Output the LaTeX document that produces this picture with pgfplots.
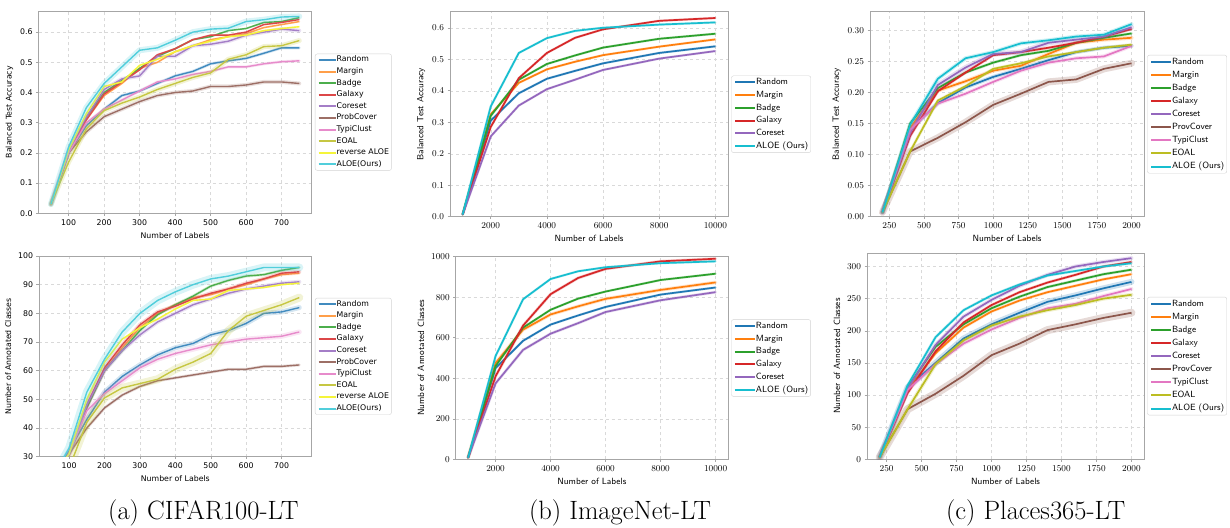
\documentclass[border=0pt]{standalone}
\usepackage{fontspec}
\usepackage{pgfplots}
\usepackage{pgfplotstable}
\pgfplotsset{compat=1.18}
\newfontfamily\dejavu{DejaVu Sans}

\definecolor{tBlue}{HTML}{1F77B4}
\definecolor{tOrange}{HTML}{FF7F0E}
\definecolor{tGreen}{HTML}{2CA02C}
\definecolor{tRed}{HTML}{D62728}
\definecolor{tPurple}{HTML}{9467BD}
\definecolor{tBrown}{HTML}{8C564B}
\definecolor{tPink}{HTML}{E377C2}
\definecolor{tOlive}{HTML}{BCBD22}
\definecolor{tCyan}{HTML}{17BECF}
\definecolor{tYellow}{HTML}{F5F53A}

% CIFAR100-LT, balanced accuracy
\pgfplotstableread{
n Random Margin Badge Galaxy Coreset ProbCover TypiClust EOAL revALOE ALOE
50 0.030 0.030 0.030 0.030 0.030 0.030 0.030 0.030 0.030 0.030
100 0.200 0.200 0.200 0.200 0.210 0.200 0.200 0.170 0.210 0.220
150 0.290 0.310 0.320 0.310 0.320 0.270 0.300 0.280 0.330 0.350
200 0.345 0.390 0.400 0.395 0.410 0.320 0.345 0.340 0.420 0.430
250 0.390 0.430 0.440 0.435 0.445 0.345 0.375 0.365 0.435 0.485
300 0.405 0.480 0.480 0.475 0.455 0.370 0.405 0.385 0.490 0.540
350 0.430 0.500 0.520 0.525 0.520 0.390 0.435 0.410 0.510 0.548
400 0.455 0.535 0.545 0.545 0.520 0.400 0.445 0.430 0.535 0.573
450 0.470 0.555 0.575 0.575 0.555 0.405 0.460 0.450 0.555 0.600
500 0.495 0.575 0.585 0.590 0.560 0.420 0.470 0.465 0.570 0.610
550 0.505 0.585 0.605 0.590 0.570 0.420 0.485 0.510 0.585 0.613
600 0.513 0.595 0.612 0.600 0.590 0.425 0.485 0.525 0.590 0.635
650 0.530 0.615 0.632 0.625 0.600 0.435 0.495 0.552 0.605 0.641
700 0.548 0.625 0.635 0.632 0.610 0.435 0.502 0.555 0.612 0.650
750 0.548 0.635 0.648 0.642 0.605 0.430 0.505 0.572 0.618 0.652
}\accA

% CIFAR100-LT, annotated classes
\pgfplotstableread{
n Random Margin Badge Galaxy Coreset ProbCover TypiClust EOAL revALOE ALOE
50 22 22 22 22 22 22 22 18 22 22
100 32 31 31 31 31 31 31 26 31 33
150 43 48 47 48 48 40 46 42 50 52.5
200 52.5 60 60 61 60 47 52 50.5 63 64
250 58 68 67 69 67 51.5 56.5 54 71 73.5
300 62 75 74 76 72.5 54.5 61 55.5 75 80
350 65.5 80 79.5 80.5 77 56.5 64 57 78 84.5
400 68 83 83 82.5 80 57.5 66 60.5 81.5 87.5
450 69.5 85.5 86 85 83 58.5 67.5 63 84.5 90
500 72.5 86.5 89.5 87 85 59.5 69 66 85 92
550 74 88.5 91.5 88.5 87 60.5 70 74 88 93
600 76.5 90 93 90.5 88.5 60.5 71 79 88.5 94.5
650 80 92 93.5 92 89.5 61.5 71.5 81 89 96
700 80.5 93.5 95 94 90.5 61.5 72 83 90 96
750 82 94 96 94.5 91 62 73.5 85.5 90.5 96
}\clsA

% ImageNet-LT
\pgfplotstableread{
n Random Margin Badge Galaxy Coreset ALOE
1000 0.007 0.007 0.007 0.007 0.007 0.007
2000 0.305 0.325 0.320 0.285 0.255 0.350
3000 0.392 0.425 0.435 0.440 0.353 0.520
4000 0.438 0.468 0.485 0.520 0.405 0.567
5000 0.463 0.492 0.512 0.568 0.435 0.590
6000 0.487 0.513 0.537 0.595 0.466 0.600
8000 0.520 0.540 0.565 0.622 0.502 0.610
10000 0.541 0.563 0.581 0.631 0.526 0.617
}\accB

\pgfplotstableread{
n Random Margin Badge Galaxy Coreset ALOE
1000 8 8 8 8 8 8
2000 450 475 460 410 375 510
3000 585 640 650 660 540 790
4000 665 715 738 815 620 890
5000 710 755 793 895 672 928
6000 752 792 828 940 727 948
8000 813 836 885 977 785 968
10000 848 873 916 990 825 977
}\clsB

% Places365-LT
\pgfplotstableread{
n Random Margin Badge Galaxy Coreset ProvCover TypiClust EOAL ALOE
200 0.007 0.007 0.007 0.007 0.007 0.007 0.007 0.007 0.007
400 0.140 0.143 0.150 0.130 0.135 0.105 0.140 0.105 0.148
600 0.183 0.203 0.207 0.202 0.212 0.127 0.182 0.187 0.222
800 0.208 0.218 0.232 0.232 0.240 0.152 0.198 0.210 0.255
1000 0.225 0.235 0.248 0.260 0.262 0.180 0.217 0.238 0.265
1200 0.238 0.243 0.260 0.265 0.265 0.198 0.235 0.247 0.279
1400 0.252 0.262 0.267 0.272 0.280 0.217 0.248 0.258 0.284
1600 0.265 0.280 0.280 0.280 0.285 0.221 0.255 0.265 0.290
1800 0.272 0.285 0.288 0.290 0.290 0.238 0.258 0.272 0.293
2000 0.275 0.288 0.295 0.302 0.305 0.247 0.275 0.277 0.310
}\accC

\pgfplotstableread{
n Random Margin Badge Galaxy Coreset ProvCover TypiClust EOAL ALOE
200 3 3 3 3 3 3 3 3 3
400 112 108 112 103 110 78 108 78 115
600 150 165 175 168 178 102 148 148 190
800 188 205 210 213 222 130 180 185 232
1000 210 230 235 240 248 162 202 208 255
1200 228 247 253 260 270 180 220 222 272
1400 245 260 268 275 287 201 235 232 286
1600 255 270 278 287 300 210 242 240 293
1800 266 280 288 300 307 220 254 250 300
2000 276 288 295 307 313 228 265 256 305
}\clsC

% one series: translucent band, then the line
\newcommand\ser[5]{%
  \addplot[forget plot, draw=#3, opacity=0.22, line width=#4, line join=round, line cap=round] table[x=n,y=#2]{#1};
  \addplot[draw=#3, line width=#5, line join=round] table[x=n,y=#2]{#1};
}

\pgfplotsset{
  panel/.style={
    scale only axis, anchor=south west, clip=true,
    grid=major, grid style={dashed, gray!30, line width=0.4pt},
    axis line style={gray!70, line width=0.6pt},
    tick style={gray!70, line width=0.5pt}, tick align=outside, major tick length=2.5pt,
    xtick pos=bottom, ytick pos=left,
    scaled x ticks=false, scaled y ticks=false,
    /pgf/number format/1000 sep={},
    legend cell align=left,
    legend style={at={(1.012,0.5)}, anchor=west, draw=gray!35, rounded corners=2pt,
      inner xsep=2.5pt, inner ysep=2pt, fill=white},
  },
  pa/.style={panel,
    xmin=15, xmax=785, xtick={100,200,300,400,500,600,700},
    /pgf/number format/assume math mode=true,
    tick label style={font=\dejavu\fontsize{7.8}{9}\selectfont},
    label style={font=\dejavu\fontsize{7.8}{9}\selectfont},
    legend image code/.code={\draw[##1, line width=2pt, opacity=1] (0pt,0pt) -- (17pt,0pt);},
    legend style={font=\dejavu\fontsize{7.8}{9}\selectfont, row sep=3.6pt,
      nodes={inner sep=0pt, text height=6pt, text depth=2pt}},
    xlabel={Number of Labels},
    legend entries={Random, Margin, Badge, Galaxy, Coreset, ProbCover, TypiClust, EOAL, reverse ALOE, ALOE(Ours)},
  },
  pbc/.style={panel,
    tick label style={font=\fontsize{9}{10}\selectfont},
    label style={font=\sffamily\fontsize{9}{10}\selectfont},
    legend image code/.code={\draw[##1, line width=2pt, opacity=1] (0pt,0pt) -- (20pt,0pt);},
    legend style={font=\sffamily\fontsize{9}{10}\selectfont,
      nodes={inner sep=0pt, text height=7pt, text depth=2.3pt}},
    xlabel={Number of Labels},
  },
  pb/.style={pbc, xmin=550, xmax=10450, xtick={2000,4000,6000,8000,10000},
    legend style={row sep=3.4pt},
    legend entries={Random, Margin, Badge, Galaxy, Coreset, ALOE (Ours)}},
  pc/.style={pbc, xmin=110, xmax=2090, xtick={250,500,750,1000,1250,1500,1750,2000},
    legend style={row sep=3.8pt},
    legend entries={Random, Margin, Badge, Galaxy, Coreset, ProvCover, TypiClust, EOAL, ALOE (Ours)}},
}

\begin{document}
\begin{tikzpicture}[x=1pt,y=1pt]
\path[use as bounding box] (0,0) rectangle (1230,527);

% (a) top
\begin{axis}[pa, at={(38.5pt,313.7pt)}, width=273.2pt, height=202.3pt,
  ymin=0, ymax=0.67, ytick={0,0.1,0.2,0.3,0.4,0.5,0.6},
  yticklabel style={/pgf/number format/.cd, fixed, fixed zerofill, precision=1},
  ylabel={Balanced Test Accuracy}]
\ser{\accA}{Random}{tBlue!85!white}{3pt}{1.4pt}
\ser{\accA}{Margin}{tOrange!75!white}{2pt}{1.4pt}
\ser{\accA}{Badge}{tGreen!85!white}{2pt}{1.4pt}
\ser{\accA}{Galaxy}{tRed!85!white}{2pt}{1.4pt}
\ser{\accA}{Coreset}{tPurple!85!white}{4pt}{1.4pt}
\ser{\accA}{ProbCover}{tBrown!85!white}{4pt}{1.4pt}
\ser{\accA}{TypiClust}{tPink!85!white}{3pt}{1.4pt}
\ser{\accA}{EOAL}{tOlive!85!white}{5pt}{1.4pt}
\ser{\accA}{revALOE}{tYellow}{2pt}{1.4pt}
\ser{\accA}{ALOE}{tCyan!75!white}{6pt}{1.4pt}
\end{axis}

% (a) bottom
\begin{axis}[pa, at={(39pt,70.3pt)}, width=272.7pt, height=200.7pt,
  ymin=30, ymax=100, ytick={30,40,50,60,70,80,90,100},
  ylabel={Number of Annotated Classes}]
\ser{\clsA}{Random}{tBlue!85!white}{5pt}{1.4pt}
\ser{\clsA}{Margin}{tOrange!75!white}{3pt}{1.4pt}
\ser{\clsA}{Badge}{tGreen!85!white}{3pt}{1.4pt}
\ser{\clsA}{Galaxy}{tRed!85!white}{4pt}{1.4pt}
\ser{\clsA}{Coreset}{tPurple!85!white}{4pt}{1.4pt}
\ser{\clsA}{ProbCover}{tBrown!85!white}{3pt}{1.4pt}
\ser{\clsA}{TypiClust}{tPink!85!white}{5pt}{1.4pt}
\ser{\clsA}{EOAL}{tOlive!85!white}{8pt}{1.4pt}
\ser{\clsA}{revALOE}{tYellow}{2pt}{1.4pt}
\ser{\clsA}{ALOE}{tCyan!75!white}{8pt}{1.4pt}
\end{axis}

% (b) top
\begin{axis}[pb, at={(450pt,310.3pt)}, width=278pt, height=205pt,
  ymin=0, ymax=0.651, ytick={0,0.1,0.2,0.3,0.4,0.5,0.6},
  yticklabel style={/pgf/number format/.cd, fixed, fixed zerofill, precision=1},
  ylabel={Balanced Test Accuracy}]
\ser{\accB}{Random}{tBlue}{2.5pt}{1.7pt}
\ser{\accB}{Margin}{tOrange}{2.5pt}{1.7pt}
\ser{\accB}{Badge}{tGreen}{2.5pt}{1.7pt}
\ser{\accB}{Galaxy}{tRed}{2.5pt}{1.7pt}
\ser{\accB}{Coreset}{tPurple}{2.5pt}{1.7pt}
\ser{\accB}{ALOE}{tCyan}{2.5pt}{1.7pt}
\end{axis}

% (b) bottom
\begin{axis}[pb, at={(455.7pt,67.7pt)}, width=272.3pt, height=202.6pt,
  ymin=0, ymax=1000, ytick={0,200,400,600,800,1000},
  ylabel={Number of Annotated Classes}]
\ser{\clsB}{Random}{tBlue}{2.5pt}{1.7pt}
\ser{\clsB}{Margin}{tOrange}{3.5pt}{1.7pt}
\ser{\clsB}{Badge}{tGreen}{2.5pt}{1.7pt}
\ser{\clsB}{Galaxy}{tRed}{3pt}{1.7pt}
\ser{\clsB}{Coreset}{tPurple}{3pt}{1.7pt}
\ser{\clsB}{ALOE}{tCyan}{2.5pt}{1.7pt}
\end{axis}

% (c) top
\begin{axis}[pc, at={(870pt,310.3pt)}, width=274pt, height=205pt,
  ymin=0, ymax=0.33, ytick={0,0.05,0.10,0.15,0.20,0.25,0.30},
  yticklabel style={/pgf/number format/.cd, fixed, fixed zerofill, precision=2},
  ylabel={Balanced Test Accuracy}]
\ser{\accC}{Random}{tBlue}{4pt}{1.7pt}
\ser{\accC}{Margin}{tOrange}{4pt}{1.7pt}
\ser{\accC}{Badge}{tGreen}{3pt}{1.7pt}
\ser{\accC}{Galaxy}{tRed}{3pt}{1.7pt}
\ser{\accC}{Coreset}{tPurple}{5pt}{1.7pt}
\ser{\accC}{ProvCover}{tBrown}{7pt}{1.7pt}
\ser{\accC}{TypiClust}{tPink}{4pt}{1.7pt}
\ser{\accC}{EOAL}{tOlive}{3pt}{1.7pt}
\ser{\accC}{ALOE}{tCyan}{4pt}{1.7pt}
\end{axis}

% (c) bottom
\begin{axis}[pc, at={(867pt,67.7pt)}, width=277pt, height=206.3pt,
  ymin=0, ymax=321, ytick={0,50,100,150,200,250,300},
  ylabel={Number of Annotated Classes}]
\ser{\clsC}{Random}{tBlue}{6pt}{1.7pt}
\ser{\clsC}{Margin}{tOrange}{3pt}{1.7pt}
\ser{\clsC}{Badge}{tGreen}{3pt}{1.7pt}
\ser{\clsC}{Galaxy}{tRed}{3pt}{1.7pt}
\ser{\clsC}{Coreset}{tPurple}{4pt}{1.7pt}
\ser{\clsC}{ProvCover}{tBrown}{8pt}{1.7pt}
\ser{\clsC}{TypiClust}{tPink}{4pt}{1.7pt}
\ser{\clsC}{EOAL}{tOlive}{4pt}{1.7pt}
\ser{\clsC}{ALOE}{tCyan}{3pt}{1.7pt}
\end{axis}

\node[font=\fontsize{26.5}{30}\selectfont] at (203.3,14) {(a) CIFAR100-LT};
\node[font=\fontsize{26.5}{30}\selectfont] at (620,14) {(b) ImageNet-LT};
\node[font=\fontsize{26.5}{30}\selectfont] at (1035.7,14) {(c) Places365-LT};
\end{tikzpicture}
\end{document}
